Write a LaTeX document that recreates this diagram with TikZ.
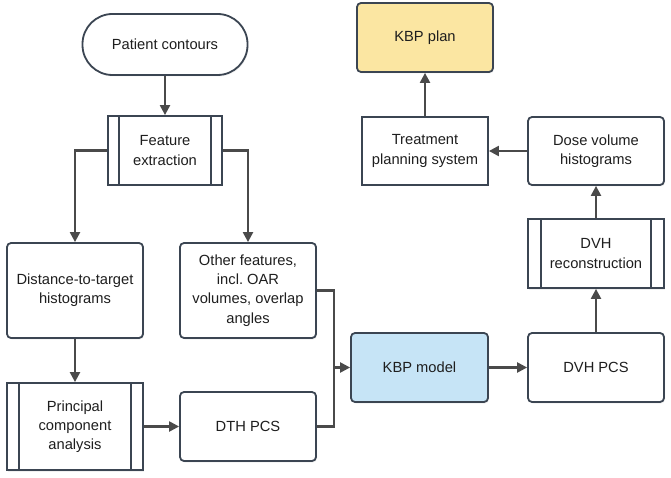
\documentclass[tikz,border=0pt]{standalone}
\usepackage{fontspec}
\setmainfont{Liberation Sans}
\usetikzlibrary{arrows.meta,shadows}
\definecolor{edge}{HTML}{3B4552}
\definecolor{arrc}{HTML}{4A4A4A}
\definecolor{txt}{HTML}{1E1E1E}
\definecolor{kbpblue}{HTML}{C6E4F6}
\definecolor{kbpyel}{HTML}{FBE6A2}
\begin{document}
\begin{tikzpicture}[x=1pt,y=-1pt,
  box/.style={draw=edge, line width=1.8pt, fill=white, rounded corners=4pt,
    align=center, text=txt, font=\fontsize{14.7}{19.3}\selectfont, inner sep=0pt,
    drop shadow={opacity=0.12, shadow xshift=1pt, shadow yshift=-1.5pt}},
  sharpbox/.style={box, rounded corners=0pt},
  terminal/.style={box, rounded corners=30pt},
  subproc/.style={box, rounded corners=0pt,
    path picture={
      \draw[edge, line width=1.8pt]
        ([xshift=#1]path picture bounding box.north west) -- ([xshift=#1]path picture bounding box.south west)
        ([xshift=-#1]path picture bounding box.north east) -- ([xshift=-#1]path picture bounding box.south east);}},
  arr/.style={draw=arrc, line width=2.2pt, -{Triangle[length=10pt,width=10pt]}},
  ln/.style={draw=arrc, line width=2.2pt}
]
\useasboundingbox (0,0) rectangle (671,478);

\node[terminal, minimum width=165pt, minimum height=61pt] (pc) at (165,44.5) {Patient contours};
\node[subproc=11pt, minimum width=114pt, minimum height=69pt] (fe) at (165,150.5) {Feature\\extraction};
\node[box, minimum width=136pt, minimum height=95pt] (dth) at (75,290.5) {Distance-to-target\\histograms};
\node[box, minimum width=136pt, minimum height=95pt] (of) at (248,290.5) {Other features,\\incl.\ OAR\\volumes, overlap\\angles};
\node[subproc=12pt, minimum width=136pt, minimum height=87pt] (pca) at (75,426.5) {Principal\\component\\analysis};
\node[box, minimum width=136pt, minimum height=69pt] (dthpcs) at (248,426.5) {DTH PCS};
\node[box, fill=kbpblue, minimum width=137pt, minimum height=69pt] (kbp) at (419.5,367.5) {KBP model};
\node[box, minimum width=136pt, minimum height=69pt] (dvhpcs) at (596,367.5) {DVH PCS};
\node[subproc=13pt, minimum width=136pt, minimum height=69pt] (dvhr) at (596,253.5) {DVH\\reconstruction};
\node[box, minimum width=136pt, minimum height=68pt] (dvh) at (596,151) {Dose volume\\histograms};
\node[sharpbox, minimum width=126pt, minimum height=68pt] (tps) at (425,151) {Treatment\\planning system};
\node[box, fill=kbpyel, minimum width=136pt, minimum height=69pt] (plan) at (425,37.5) {KBP plan};

\coordinate (j) at (334,367.5);

\draw[arr] (pc.south) -- (fe.north);
\draw[arr] (fe.west) -| (dth.north);
\draw[arr] (fe.east) -| (of.north);
\draw[arr] (dth.south) -- (pca.north);
\draw[arr] (pca.east) -- (dthpcs.west);
\draw[ln] (of.east) -| (j) |- (dthpcs.east);
\draw[arr] (j) -- (kbp.west);
\draw[arr] (kbp.east) -- (dvhpcs.west);
\draw[arr] (dvhpcs.north) -- (dvhr.south);
\draw[arr] (dvhr.north) -- (dvh.south);
\draw[arr] (dvh.west) -- (tps.east);
\draw[arr] (tps.north) -- (plan.south);
\end{tikzpicture}
\end{document}
